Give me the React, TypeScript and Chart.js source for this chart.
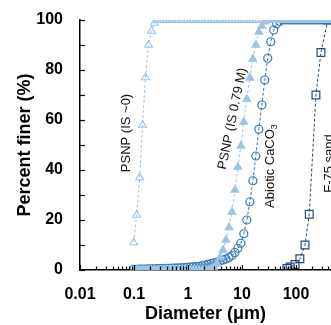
import React, { useEffect, useRef } from "react";
import { Chart, registerables } from "chart.js";

Chart.register(...registerables);

// Particle size bins (µm)
const binSizes = [
  0.0985, 0.112, 0.127, 0.144, 0.163, 0.186, 0.211, 0.239, 0.272, 0.308,
  0.35, 0.398, 0.451, 0.513, 0.582, 0.661, 0.75, 0.852, 0.967, 1.1,
  1.25, 1.42, 1.61, 1.83, 2.07, 2.36, 2.68, 3.04, 3.45, 3.92,
  4.45, 5.05, 5.74, 6.51, 7.4, 8.4, 9.54, 10.8, 12.3, 14,
  15.9, 18, 20.5, 23.3, 26.4, 30, 34.1, 38.7, 43.9, 49.9,
  56.6, 64.3, 73, 82.9, 94.1, 107, 121, 138, 157, 178,
  202, 229, 260, 295, 335, 381, 432,
];

// PSNP (IS ~0), percent finer
const psnpIS0 = [
  11, 22, 37, 58, 77, 90, 95.6, 98.8, 100, 100,
  100, 100, 100, 100, 100, 100, 100, 100, 100, 100,
  100, 100, 100, 100, 100, 100, 100, 100, 100, 100,
  100, 100, 100, 100, 100, 100, 100, 100, 100, 100,
  100, 100, 100, 100, 100, 100, 100, 100, 100, 100,
  100, 100, 100, 100, 100, 100, 100, 100, 100, 100,
  100, 100, 100, 100, 100, 100, 100,
];

// PSNP (IS 0.79 M), percent finer
const psnpIS079 = [
  0, 0, 0, 0, 0, 0, 0, 0, 0, 0,
  0, 0, 0, 0, 0, 0, 0, 0, 0, 0,
  0, 0, 0, 0, 0, 0, 0.5, 1, 2.5, 5,
  8, 12, 17, 23.2, 32, 41.2, 49.6, 59.2, 68.4, 76.8,
  84.4, 90, 95.2, 97.6, 99.3, 100, 100, 100, 100, 100,
  100, 100, 100, 100, 100, 100, 100, 100, 100, 100,
  100, 100, 100, 100, 100, 100, 100,
];

// Abiotic CaCO3, percent finer
const abioticCaCO3 = [
  0.3, 0.3, 0.4, 0.4, 0.4, 0.5, 0.5, 0.5, 0.6, 0.6,
  0.6, 0.7, 0.7, 0.8, 0.8, 0.9, 0.9, 1.0, 1.1, 1.2,
  1.3, 1.4, 1.5, 1.7, 2.0, 2.3, 2.6, 2.9, 3.2, 3.6,
  4.0, 4.4, 5.0, 5.8, 7.0, 8.7, 10.7, 14.5, 20, 27.3,
  35.7, 45.6, 56.3, 66, 76, 84.7, 91.3, 96, 98.5, 99.5,
  100, 100, 100, 100, 100, 100, 100, 100, 100, 100,
  100, 100, 100, 100, 100, 100, 100,
];

// F-75 sand
const sandSizes = [68, 78, 96, 118, 147, 176, 234, 290, 390];
const sandFiner = [0.6, 1.2, 2.2, 4.5, 10, 22.3, 70, 87, 100];

const yTickValues = [0, 10, 20, 30, 40, 50, 60, 70, 80, 90, 100];

const annotations = [
  { text: "PSNP (IS ~0)", sub: "", x: 0.0725, y: 54.8, angle: -90 },
  { text: "PSNP (IS 0.79 M)", sub: "", x: 6.7, y: 60.5, angle: -78.5 },
  { text: "Abiotic CaCO", sub: "3", x: 33, y: 41.6, angle: -90 },
  { text: "F-75 sand", sub: "", x: 408, y: 42.6, angle: -90 },
];

const FONT = '"Liberation Sans", Arial, sans-serif';

const isDecade = (v: number) => {
  const l = Math.log10(v);
  return Math.abs(l - Math.round(l)) < 1e-6;
};
const isNice = (v: number) => {
  const e = Math.floor(Math.log10(v) + 1e-9);
  const m = v / Math.pow(10, e);
  return Math.abs(m - Math.round(m)) < 1e-6;
};

const tickPlugin = {
  id: "inwardTicks",
  afterDraw(chart: any) {
    const { ctx, chartArea, scales } = chart;
    const xs = scales.x;
    const ys = scales.y;
    ctx.save();
    ctx.strokeStyle = "#000";
    ctx.lineWidth = 1.2;
    for (const t of xs.ticks) {
      const v = t.value;
      if (v > xs.max + 1e-9 || v < xs.min - 1e-9 || !isNice(v)) continue;
      const px = Math.round(xs.getPixelForValue(v)) + 0.5;
      const len = isDecade(v) ? 5 : 3.5;
      ctx.beginPath();
      ctx.moveTo(px, chartArea.bottom);
      ctx.lineTo(px, chartArea.bottom - len);
      ctx.stroke();
    }
    for (const v of yTickValues) {
      const py = Math.round(ys.getPixelForValue(v)) + 0.5;
      ctx.beginPath();
      ctx.moveTo(chartArea.left, py);
      ctx.lineTo(chartArea.left + 5, py);
      ctx.stroke();
    }
    ctx.restore();
  },
};

const labelPlugin = {
  id: "curveLabels",
  afterDatasetsDraw(chart: any) {
    const { ctx, scales } = chart;
    const mainFont = `13px ${FONT}`;
    const subFont = `9px ${FONT}`;
    for (const a of annotations) {
      const px = scales.x.getPixelForValue(a.x);
      const py = scales.y.getPixelForValue(a.y);
      ctx.save();
      ctx.translate(px, py);
      ctx.rotate((a.angle * Math.PI) / 180);
      ctx.fillStyle = "#111";
      ctx.textBaseline = "middle";
      ctx.textAlign = "left";
      ctx.font = mainFont;
      const w1 = ctx.measureText(a.text).width;
      let w2 = 0;
      if (a.sub) {
        ctx.font = subFont;
        w2 = ctx.measureText(a.sub).width;
      }
      const start = -(w1 + w2) / 2;
      ctx.font = mainFont;
      ctx.fillText(a.text, start, 0);
      if (a.sub) {
        ctx.font = subFont;
        ctx.fillText(a.sub, start + w1, 5);
      }
      ctx.restore();
    }
  },
};

export default function App() {
  const ref = useRef<HTMLCanvasElement | null>(null);

  useEffect(() => {
    document.body.style.margin = "0";
    const canvas = ref.current;
    if (!canvas) return;
    const light = "#9DC3E6";
    const mid = "#2E75B6";
    const dark = "#1F4E79";
    const clear = "rgba(255,255,255,0)";
    const chart = new Chart(canvas, {
      type: "line",
      data: {
        datasets: [
          {
            label: "PSNP (IS ~0)",
            data: binSizes.map((x, i) => ({ x, y: psnpIS0[i] })),
            borderColor: light,
            borderWidth: 1,
            borderDash: [3, 2],
            pointStyle: "triangle",
            pointRadius: 4.5,
            pointBorderWidth: 1.1,
            pointBorderColor: light,
            pointBackgroundColor: clear,
            tension: 0,
          },
          {
            label: "PSNP (IS 0.79 M)",
            data: binSizes.map((x, i) => ({ x, y: psnpIS079[i] })),
            borderColor: light,
            borderWidth: 1,
            borderDash: [3, 2],
            pointStyle: "triangle",
            pointRadius: 4.5,
            pointBorderWidth: 1.1,
            pointBorderColor: light,
            pointBackgroundColor: light,
            tension: 0,
          },
          {
            label: "Abiotic CaCO3",
            data: binSizes.map((x, i) => ({ x, y: abioticCaCO3[i] })),
            borderColor: mid,
            borderWidth: 1,
            borderDash: [3, 2],
            pointStyle: "circle",
            pointRadius: 4,
            pointBorderWidth: 1.2,
            pointBorderColor: mid,
            pointBackgroundColor: clear,
            tension: 0,
          },
          {
            label: "F-75 sand",
            data: sandSizes.map((x, i) => ({ x, y: sandFiner[i] })),
            borderColor: dark,
            borderWidth: 1,
            borderDash: [3, 2],
            pointStyle: "rect",
            pointRadius: 5.5,
            pointBorderWidth: 1.2,
            pointBorderColor: dark,
            pointBackgroundColor: clear,
            tension: 0,
          },
        ],
      },
      options: {
        animation: false,
        responsive: false,
        maintainAspectRatio: false,
        layout: { autoPadding: false, padding: { top: 20, right: 0, left: 0, bottom: 0 } },
        plugins: {
          legend: { display: false },
          tooltip: { enabled: false },
        },
        scales: {
          x: {
            type: "logarithmic",
            min: 0.01,
            max: 445,
            grid: { display: false, drawTicks: false, tickLength: 0 },
            border: { display: true, color: "#000", width: 1.5 },
            afterFit: (s: any) => {
              s.height = 55;
              s.paddingRight = 0;
              s.paddingLeft = 0;
            },
            ticks: {
              autoSkip: false,
              maxRotation: 0,
              minRotation: 0,
              padding: 15,
              color: "#000",
              font: { family: FONT, size: 16, weight: "bold" },
              callback: (v: any) => {
                const n = Number(v);
                if (!isDecade(n)) return "";
                return String(n);
              },
            },
            title: {
              display: true,
              text: "Diameter (μm)",
              color: "#000",
              font: { family: FONT, size: 18, weight: "bold" },
              padding: { top: 0, bottom: 0 },
            },
          },
          y: {
            type: "linear",
            min: 0,
            max: 100,
            grid: { display: false, drawTicks: false, tickLength: 0 },
            border: { display: true, color: "#000", width: 1.5 },
            afterFit: (s: any) => {
              s.width = 80;
              s.paddingTop = 0;
              s.paddingBottom = 0;
            },
            ticks: {
              stepSize: 20,
              padding: 17,
              color: "#000",
              font: { family: FONT, size: 16, weight: "bold" },
            },
            title: {
              display: true,
              text: "Percent finer (%)",
              color: "#000",
              font: { family: FONT, size: 18, weight: "bold" },
              padding: { top: 14, bottom: 0 },
            },
          },
        },
      },
      plugins: [tickPlugin, labelPlugin],
    } as any);
    return () => chart.destroy();
  }, []);

  return (
    <div style={{ position: "fixed", left: 0, top: 0, width: 331, height: 325 }}>
      <canvas ref={ref} width={331} height={325} style={{ display: "block", width: 331, height: 325 }} />
    </div>
  );
}
